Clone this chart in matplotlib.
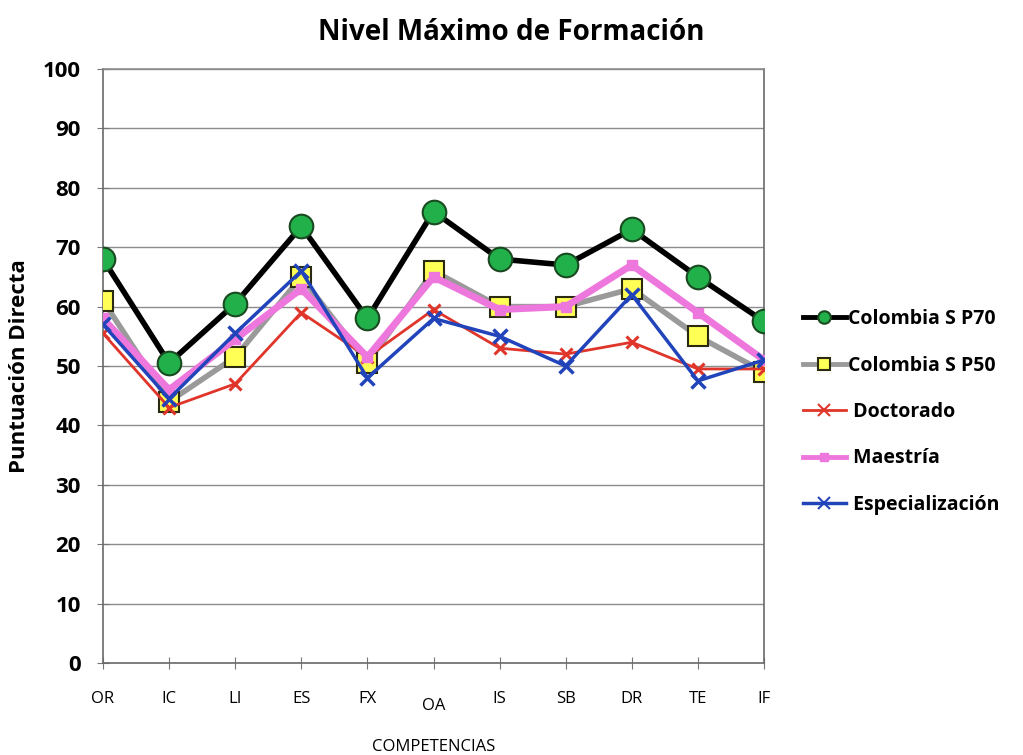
import matplotlib
matplotlib.use("Agg")
import matplotlib.pyplot as plt
from matplotlib.lines import Line2D

# Competency codes on the x axis
competencias = ["OR", "IC", "LI", "ES", "FX", "OA", "IS", "SB", "DR", "TE", "IF"]

# Direct scores per group
colombia_p70 = [68, 50.5, 60.5, 73.5, 58, 76, 68, 67, 73, 65, 57.5]
colombia_p50 = [61, 44, 51.5, 65, 50.5, 66, 60, 60, 63, 55, 49]
doctorado = [55.5, 43, 47, 59, 51.5, 59.5, 53, 52, 54, 49.5, 49.5]
maestria = [58, 46, 54.5, 63, 51.5, 65, 59.5, 60, 67, 59, 51]
especializacion = [57, 44.5, 55.5, 66, 48, 58, 55, 50, 62, 47.5, 51]

yticks = [0, 10, 20, 30, 40, 50, 60, 70, 80, 90, 100]

font = ["Open Sans", "DejaVu Sans"]
plt.rcParams["font.family"] = font

fig = plt.figure(figsize=(10.23, 7.55), dpi=100)
ax = fig.add_axes([103 / 1023, 92 / 755, 661 / 1023, 594 / 755])

x = list(range(len(competencias)))

# series styles: (values, label, line kwargs, legend marker size, zorder)
styles = [
    (colombia_p50, "Colombia S P50",
     dict(color="#9a9a9a", lw=4, marker="s", ms=15, mfc="#ffff55",
          mec="#2a2a10", mew=1.5), 9, 3),
    (doctorado, " Doctorado",
     dict(color="#e0352a", lw=2, marker="x", ms=9, mew=2.2,
          mec="#e0352a"), 8, 4),
    (maestria, " Maestría",
     dict(color="#ee77dd", lw=5, marker="s", ms=7, mfc="#ee77dd",
          mec="#ee77dd"), 6, 5),
    (especializacion, " Especialización",
     dict(color="#2244bb", lw=2.5, marker="x", ms=10, mew=2.5,
          mec="#2244bb"), 8, 6),
    (colombia_p70, "Colombia S P70",
     dict(color="black", lw=4, marker="o", ms=17, mfc="#22b04b",
          mec="#1a4a20", mew=1.5), 9, 7),
]

legend_handles = {}
for values, label, kw, leg_ms, z in styles:
    ax.plot(x, values, zorder=z, **kw)
    hkw = dict(kw)
    hkw["ms"] = leg_ms
    hkw["lw"] = min(kw["lw"], 3.5)
    hkw["mew"] = min(kw.get("mew", 1.0), 1.5)
    legend_handles[label] = Line2D([], [], **hkw)

ax.set_xlim(0, len(competencias) - 1)
ax.set_ylim(0, 100)
ax.set_yticks(yticks)
ax.set_yticklabels([str(v) for v in yticks], fontsize=16, fontweight="bold")
ax.set_xticks(x)
ax.set_xticklabels(competencias, fontsize=12)
for lbl in ax.get_xticklabels():
    if lbl.get_text() == "OA":
        lbl.set_y(-0.012)
ax.tick_params(axis="x", direction="inout", length=8, color="#777777", pad=16)
ax.tick_params(axis="y", direction="inout", length=8, color="#777777", pad=12)

ax.grid(axis="y", color="#8c8c8c", lw=1)
ax.set_axisbelow(True)
for side in ["left", "right", "bottom", "top"]:
    ax.spines[side].set_color("#6a6a6a")
    ax.spines[side].set_linewidth(1.2)
ax.spines["top"].set_color("#8c8c8c")

fig.text(0.5, 1 - 32 / 755, "Nivel Máximo de Formación", fontsize=20,
         fontweight="bold", ha="center", va="center")
ax.set_xlabel("COMPETENCIAS", fontsize=12, labelpad=18)
ax.set_ylabel("Puntuación Directa", fontsize=16, fontweight="bold", labelpad=9)

order = ["Colombia S P70", "Colombia S P50", " Doctorado", " Maestría",
         " Especialización"]
leg = fig.legend([legend_handles[k] for k in order], order,
                 loc="center left", bbox_to_anchor=(803 / 1023, 1 - 412 / 755),
                 frameon=False, borderpad=0, borderaxespad=0,
                 prop={"size": 14, "weight": "bold", "family": font},
                 handlelength=2.2, labelspacing=1.36, handletextpad=0.1)

fig.savefig("out.png", dpi=100)
